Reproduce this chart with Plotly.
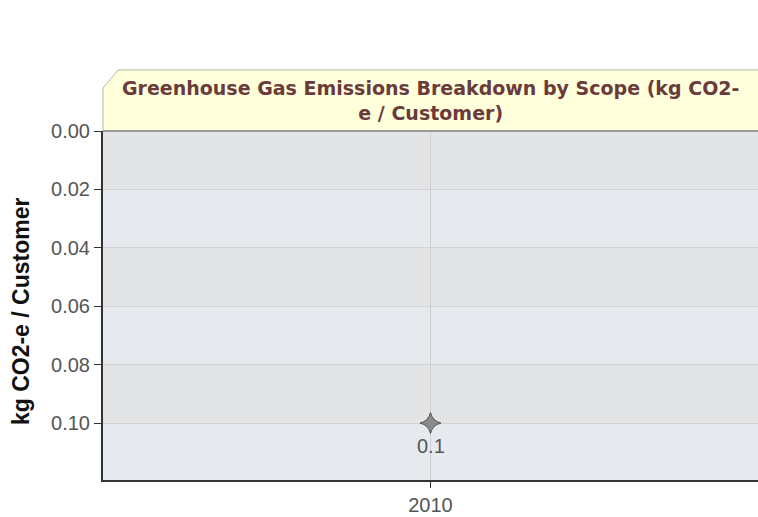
import plotly.graph_objects as go

years = [2010]
values = [0.1]
labels = ["0.1"]
y_ticks = [0.00, 0.02, 0.04, 0.06, 0.08, 0.10]
y_tick_text = ["0.00", "0.02", "0.04", "0.06", "0.08", "0.10"]
y_max = 0.1195
title_text = "Greenhouse Gas Emissions Breakdown by Scope (kg CO2-<br>e / Customer)"
y_title = "kg CO2-e / Customer"

band_dark = "#e3e4e6"
band_light = "#e6e9ed"
tick_font = dict(family="Liberation Sans, Arial", size=20, color="#555555")

fig = go.Figure()

fig.add_trace(go.Scatter(
    x=years, y=values, mode="markers",
    marker=dict(symbol="star-diamond", size=15, color="#8a8a8a",
                line=dict(color="#555555", width=1)),
    showlegend=False, cliponaxis=False, hoverinfo="skip",
))

shapes = []
edges = y_ticks + [y_max]
for i in range(len(edges) - 1):
    shapes.append(dict(type="rect", xref="paper", yref="y", x0=0, x1=1,
                       y0=edges[i], y1=edges[i + 1],
                       fillcolor=band_dark if i % 2 == 0 else band_light,
                       line=dict(width=0), layer="below"))

# title box with clipped corner
shapes.append(dict(type="path", xref="paper", yref="paper",
                   path="M 0,1 L 0,1.123 L 0.023,1.175 L 1.01,1.175 L 1.01,1 Z",
                   fillcolor="#ffffdc", line=dict(color="#b8b8a8", width=1),
                   layer="above"))
shapes.append(dict(type="line", xref="paper", yref="paper", x0=0, x1=1.01,
                   y0=1, y1=1, line=dict(color="#9a9a9a", width=2)))

annotations = [
    dict(text=title_text, xref="paper", yref="paper",
         x=0.5, y=1.0875, xanchor="center", yanchor="middle", showarrow=False,
         font=dict(family="DejaVu Sans", size=19, color="#6b3b3b", weight="bold")),
    dict(text=y_title, xref="paper", yref="paper", x=0, y=0.484,
         xanchor="center", yanchor="middle", xshift=-82, textangle=-90, showarrow=False,
         font=dict(family="Liberation Sans, Arial", size=23, color="#111111", weight="bold")),
]
for xv, yv, lab in zip(years, values, labels):
    annotations.append(dict(text=lab, x=xv, y=yv, xref="x", yref="y",
                            yshift=-23, showarrow=False, font=tick_font))

fig.update_layout(
    width=758, height=517,
    margin=dict(l=103, r=0, t=131, b=37, autoexpand=False),
    paper_bgcolor="white", plot_bgcolor=band_light,
    shapes=shapes,
    annotations=annotations,
    hovermode=False,
    xaxis=dict(range=[2009.5, 2010.5], tickvals=years, ticktext=[str(y) for y in years],
               showgrid=True, gridcolor="#cfcfcf", gridwidth=1,
               showline=True, linecolor="#333333", linewidth=2,
               ticks="outside", ticklen=6, tickcolor="#333333",
               tickfont=tick_font, automargin=False,
               zeroline=False, fixedrange=True),
    yaxis=dict(range=[y_max, 0], tickvals=y_ticks, ticktext=y_tick_text,
               showgrid=True, gridcolor="#d2d2d2", gridwidth=1,
               showline=True, linecolor="#333333", linewidth=2,
               ticks="outside", ticklen=7, tickcolor="#333333",
               tickfont=tick_font, automargin=False,
               zeroline=False, fixedrange=True),
)

fig.write_html("out.html", config={"displayModeBar": False},
               post_script="document.body.style.margin='0';document.body.style.overflow='hidden';")
